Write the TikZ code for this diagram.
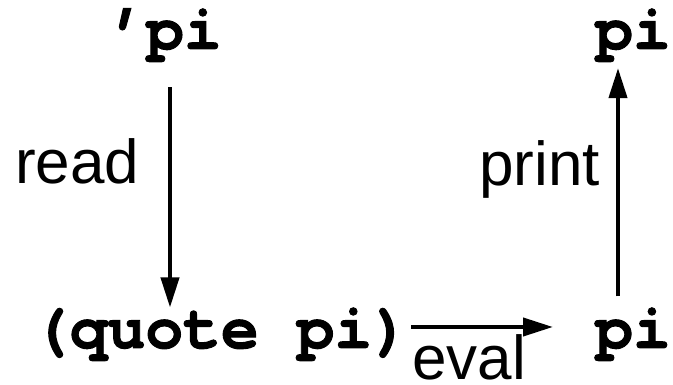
\documentclass[tikz,border=0pt]{standalone}
\usepackage{fontspec}
\setmainfont{Liberation Sans}
\newfontfamily\codefont[FakeBold=1.5]{texgyrecursor-bold.otf}
\usetikzlibrary{arrows.meta}
\begin{document}
\begin{tikzpicture}[x=1pt,y=1pt,
  code/.style={font=\codefont\fontsize{63}{63}\selectfont, inner sep=0pt},
  lab/.style={font=\fontsize{62}{62}\selectfont, inner sep=0pt},
  arr/.style={line width=4pt, -{Triangle[length=30pt,width=18pt]}}]
\useasboundingbox (0,0) rectangle (673,385);
\node[code, anchor=base] (tl) at (165,336) {’pi};
\node[code, anchor=base] (tr) at (633,336) {pi};
\node[code, anchor=base] (ql) at (221,37) {(quote pi)};
\node[code, anchor=base] (br) at (633,37) {pi};
\node[lab, anchor=base west] (read) at (15,201) {read};
\node[lab, anchor=base east] (print) at (600,199) {print};
\node[lab, anchor=base west] (eval) at (412,5) {eval};
\coordinate (rx) at (170,0);
\coordinate (px) at (618,0);
\coordinate (ey) at (0,58);
\draw[arr, shorten <=25pt] (tl.south -| rx) -- (ql.north -| rx);
\draw[arr, shorten <=1pt, shorten >=42pt] (ql.east |- ey) -- (br.west |- ey);
\draw[arr, shorten <=11pt, shorten >=6pt] (br.north -| px) -- (tr.south -| px);
\end{tikzpicture}
\end{document}
